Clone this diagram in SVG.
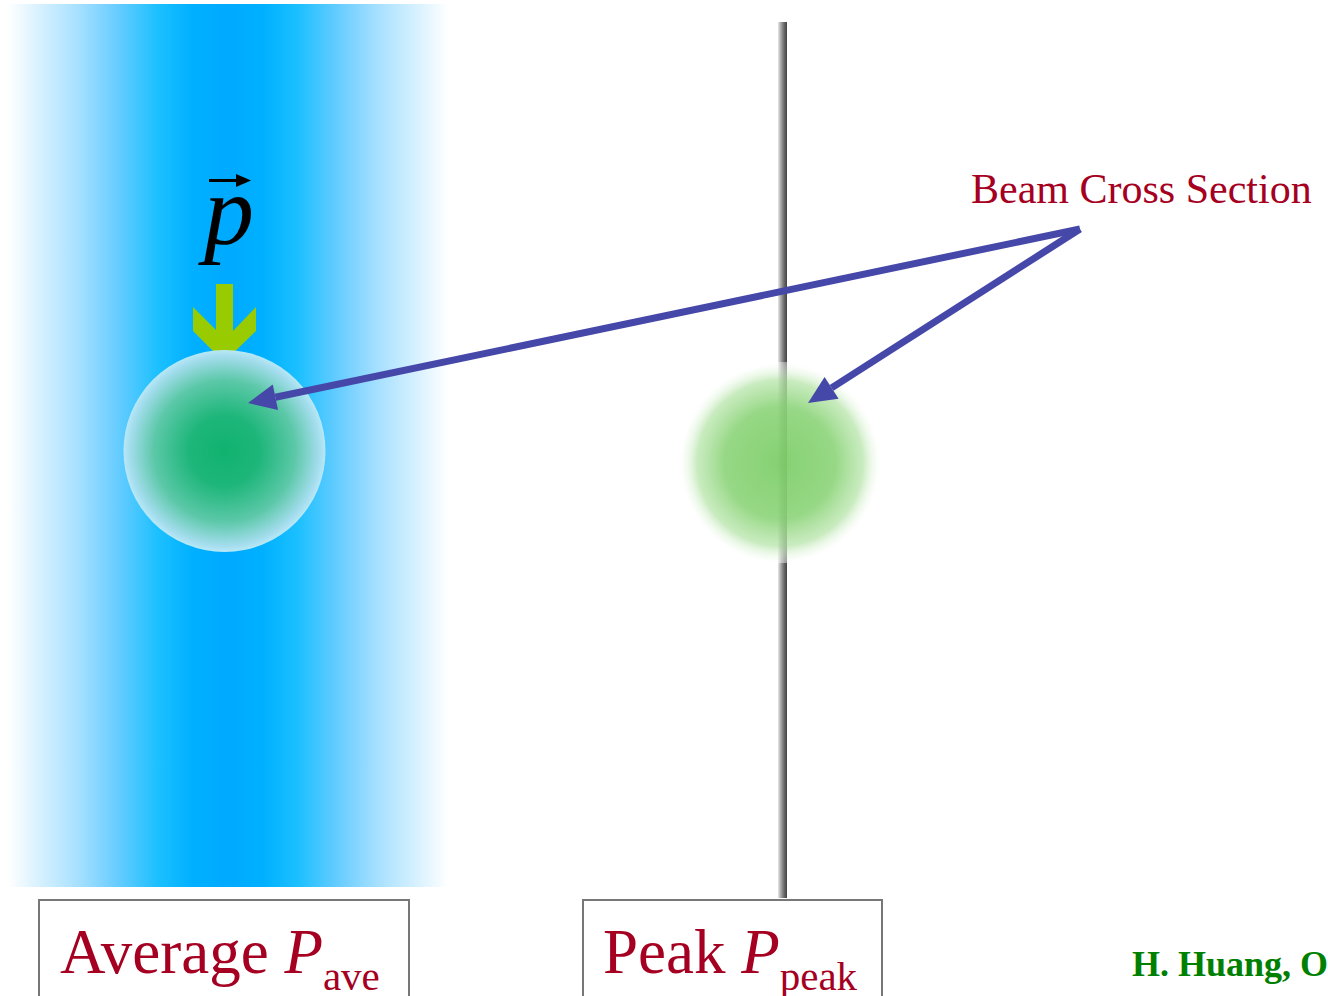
<svg xmlns="http://www.w3.org/2000/svg" width="1328" height="996" viewBox="0 0 1328 996">
  <defs>
    <linearGradient id="bandGrad" x1="0" y1="0" x2="1" y2="0">
      <stop offset="0" stop-color="#FFFFFF"/>
      <stop offset="0.08" stop-color="#D2EFFF"/>
      <stop offset="0.16" stop-color="#A6E0FF"/>
      <stop offset="0.25" stop-color="#66CCFF"/>
      <stop offset="0.34" stop-color="#1CC0FF"/>
      <stop offset="0.42" stop-color="#00B0FF"/>
      <stop offset="0.5" stop-color="#00AAFF"/>
      <stop offset="0.58" stop-color="#00B0FF"/>
      <stop offset="0.66" stop-color="#1CC0FF"/>
      <stop offset="0.75" stop-color="#66CCFF"/>
      <stop offset="0.84" stop-color="#A6E0FF"/>
      <stop offset="0.92" stop-color="#D2EFFF"/>
      <stop offset="1" stop-color="#FFFFFF"/>
    </linearGradient>
    <radialGradient id="ballLeft" cx="0.5" cy="0.5" r="0.5">
      <stop offset="0" stop-color="#10B270"/>
      <stop offset="0.35" stop-color="#1EB67A"/>
      <stop offset="0.7" stop-color="#5CC8A8"/>
      <stop offset="0.94" stop-color="#A4DDEE"/>
      <stop offset="1" stop-color="#B8E8F6"/>
    </radialGradient>
    <radialGradient id="ballRight" cx="0.5" cy="0.5" r="0.5">
      <stop offset="0" stop-color="#78CC62" stop-opacity="0.9"/>
      <stop offset="0.55" stop-color="#84D170" stop-opacity="0.85"/>
      <stop offset="0.82" stop-color="#A4DE94" stop-opacity="0.6"/>
      <stop offset="0.95" stop-color="#DDF3D6" stop-opacity="0.2"/>
      <stop offset="1" stop-color="#FFFFFF" stop-opacity="0"/>
    </radialGradient>
    <linearGradient id="rodGrad" x1="0" y1="0" x2="1" y2="0">
      <stop offset="0" stop-color="#E8E8E8"/>
      <stop offset="0.35" stop-color="#A0A0A0"/>
      <stop offset="0.7" stop-color="#666666"/>
      <stop offset="1" stop-color="#444444"/>
    </linearGradient>
    <marker id="head" markerUnits="userSpaceOnUse" viewBox="0 -13 28 26" refX="0" refY="0" markerWidth="28" markerHeight="26" orient="auto" overflow="visible">
      <path d="M0,-13 L28,0 L0,13 z" fill="#4548A8"/>
    </marker>
    <style>
      .serif { font-family: "Liberation Serif", "Times New Roman", serif; }
      .red { fill: #A50021; }
      .box { fill: #FFFFFF; stroke: #777777; stroke-width: 2; }
      .conn { stroke: #4548A8; stroke-width: 7; fill: none; marker-end: url(#head); }
    </style>
  </defs>

  <rect width="1328" height="996" fill="#FFFFFF"/>

  <g id="beam-band">
    <rect x="8" y="4" width="440" height="883" fill="url(#bandGrad)"/>
  </g>

  <g id="momentum-vector">
    <text x="229" y="244" class="serif" font-size="100" font-style="italic" text-anchor="middle" fill="#000000">p</text>
    <line x1="209" y1="180.5" x2="240" y2="180.5" stroke="#000000" stroke-width="3"/>
    <polygon points="236,174 251,180.5 236,187" fill="#000000"/>
  </g>

  <g id="green-arrow">
    <polygon points="216,284 233,284 233,331 256,307 256,331 224,362 193,331 193,307 216,330" fill="#99CC00"/>
  </g>

  <g id="left-ball">
    <circle cx="224.5" cy="451" r="101" fill="url(#ballLeft)"/>
  </g>

  <g id="axis-line">
    <rect x="778" y="22" width="9" height="876" fill="url(#rodGrad)"/>
  </g>

  <g id="right-ball">
    <rect x="680" y="362" width="200" height="201" fill="#FFFFFF" opacity="0.4"/>
    <circle cx="780" cy="463" r="101" fill="url(#ballRight)"/>
  </g>

  <g id="label-beam">
    <text x="971" y="203" class="serif red" font-size="42">Beam Cross Section</text>
  </g>

  <g id="connectors">
    <line class="conn" x1="1080" y1="229" x2="275.4" y2="397.3"/>
    <line class="conn" x1="1080" y1="229" x2="831.6" y2="387.9"/>
  </g>

  <g id="box-average">
    <rect class="box" x="39" y="900" width="370" height="120"/>
    <text x="60" y="973" class="serif red" font-size="63">Average <tspan font-style="italic">P</tspan><tspan font-size="41" dy="17">ave</tspan></text>
  </g>

  <g id="box-peak">
    <rect class="box" x="583" y="900" width="299" height="120"/>
    <text x="603" y="973" class="serif red" font-size="63">Peak <tspan font-style="italic">P</tspan><tspan font-size="41" dy="17">peak</tspan></text>
  </g>

  <g id="credit">
    <text x="1132" y="976" class="serif" font-size="36" font-weight="bold" fill="#008000">H. Huang, O</text>
  </g>
</svg>
